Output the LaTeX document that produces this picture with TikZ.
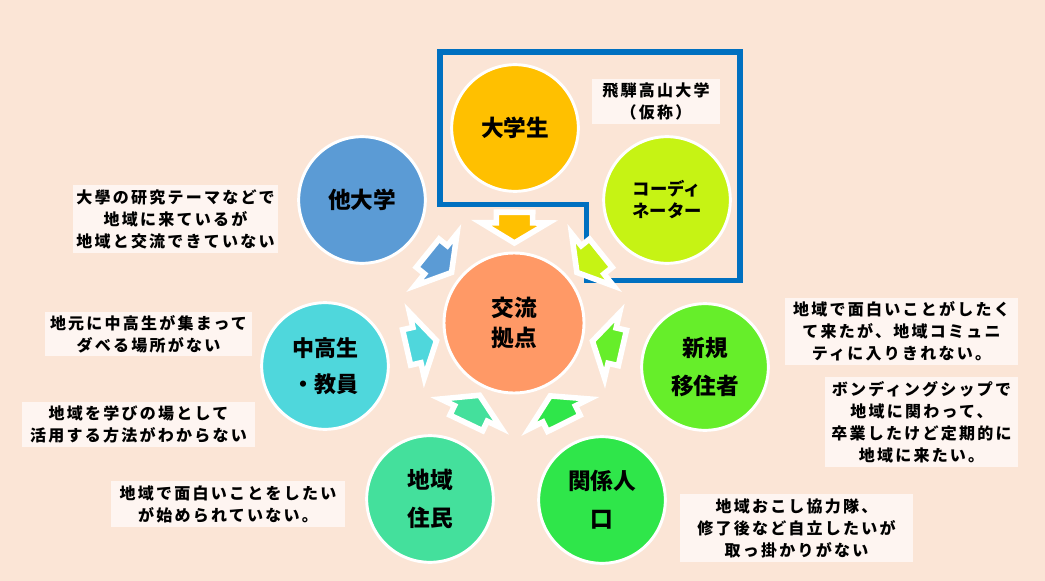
\documentclass[tikz,border=0pt]{standalone}
\usepackage{fontspec}
\setmainfont{Noto Sans CJK JP}
\newfontfamily\notefont[LetterSpace=14]{Noto Sans CJK JP}
\usetikzlibrary{shapes.arrows}
\definecolor{bg}{HTML}{FBE5D6}
\definecolor{notebg}{HTML}{FEF5F1}
\definecolor{hubc}{HTML}{FF9966}
\definecolor{unic}{HTML}{FFC000}
\definecolor{coordc}{HTML}{C6F314}
\definecolor{otherc}{HTML}{5B9BD5}
\definecolor{schoolc}{HTML}{4FD7DC}
\definecolor{residc}{HTML}{44E09C}
\definecolor{relc}{HTML}{2FE64A}
\definecolor{newc}{HTML}{66EE2A}
\definecolor{bracketc}{HTML}{0070C0}
\begin{document}
\begin{tikzpicture}[x=0.75pt,y=-0.75pt,
  circ/.style={circle, draw=white, line width=2.2pt, minimum size=95pt, inner sep=0pt,
    align=center, font=\fontsize{17}{28.5}\selectfont\bfseries},
  note/.style={fill=notebg, inner sep=0pt, align=center,
    font=\notefont\bfseries\fontsize{12}{16.5}\selectfont},
  barrow/.style={single arrow, draw=white, line width=4.2pt, line join=miter,
    inner xsep=0pt, inner ysep=11.5pt,
    minimum width=0pt, minimum height=23pt, single arrow head extend=11.5pt,
    single arrow tip angle=118, sloped, allow upside down, pos=0.5},
  bracket/.style={draw=bracketc, line width=4pt, line join=miter}
]
\useasboundingbox[fill=bg] (0,0) rectangle (1045,581);

% bracket around the university group
\coordinate (b1) at (440,52);
\coordinate (b2) at (740,52);
\coordinate (b3) at (740,280.5);
\coordinate (b4) at (586.5,280.5);
\coordinate (b5) at (586.5,204.5);
\coordinate (b6) at (440,204.5);
\draw[bracket] (b1) -- (b2) -- (b3) -- (b4) -- (b5) -- (b6) -- cycle;

% circles
\node[circ, fill=hubc, minimum size=105pt, font=\fontsize{17}{22.5}\selectfont\bfseries] (hub) at (514,323) {交流\\拠点};
\node[circ, fill=unic] (uni) at (515,128) {大学生};
\node[circ, fill=coordc, font=\fontsize{13}{16.5}\selectfont\bfseries] (coord) at (667,200) {コーディ\\ネーター};
\node[circ, fill=otherc] (other) at (362,200) {他大学};
\node[circ, fill=schoolc, font=\fontsize{16.5}{27}\selectfont\bfseries] (school) at (325,366) {中高生\\・教員};
\node[circ, fill=residc] (resid) at (430,499) {地域\\住民};
\node[circ, fill=relc] (rel) at (602,500) {関係人\\口};
\node[circ, fill=newc] (new) at (705,367) {新規\\移住者};

% block arrows toward the hub
\path (uni) -- (hub) node[barrow, fill=unic] (a1) {};
\path (coord) -- (hub) node[barrow, fill=coordc] (a2) {};
\path (other) -- (hub) node[barrow, fill=otherc] (a3) {};
\path (school) -- (hub) node[barrow, fill=schoolc] (a4) {};
\path (resid) -- (hub) node[barrow, fill=residc] (a5) {};
\path (rel) -- (hub) node[barrow, fill=relc] (a6) {};
\path (new) -- (hub) node[barrow, fill=newc] (a7) {};

% notes
\node[note, minimum width=96pt, minimum height=34pt] (n1) at (656,101.5) {飛騨高山大学\\（仮称）};
\node[note, minimum width=154pt, minimum height=51pt] (n2) at (175.5,219) {大學の研究テーマなどで\\地域に来ているが\\地域と交流できていない};
\node[note, minimum width=155pt, minimum height=33pt] (n3) at (148.5,334) {地元に中高生が集まって\\ダベる場所がない};
\node[note, minimum width=175pt, minimum height=34pt] (n4) at (138.5,424.5) {地域を学びの場として\\活用する方法がわからない};
\node[note, minimum width=175.5pt, minimum height=34.5pt] (n5) at (228,504) {地域で面白いことをしたい\\が始められていない。};
\node[note, minimum width=175pt, minimum height=50pt] (n6) at (901.5,331.5) {地域で面白いことがしたく\\て来たが、地域コミュニ\\ティに入りきれない。};
\node[note, minimum width=145pt, minimum height=67.5pt] (n7) at (921.5,422) {ボンディングシップで\\地域に関わって、\\卒業したけど定期的に\\地域に来たい。};
\node[note, minimum width=175pt, minimum height=51pt] (n8) at (796.5,528) {地域おこし協力隊、\\修了後など自立したいが\\取っ掛かりがない};
\end{tikzpicture}
\end{document}
